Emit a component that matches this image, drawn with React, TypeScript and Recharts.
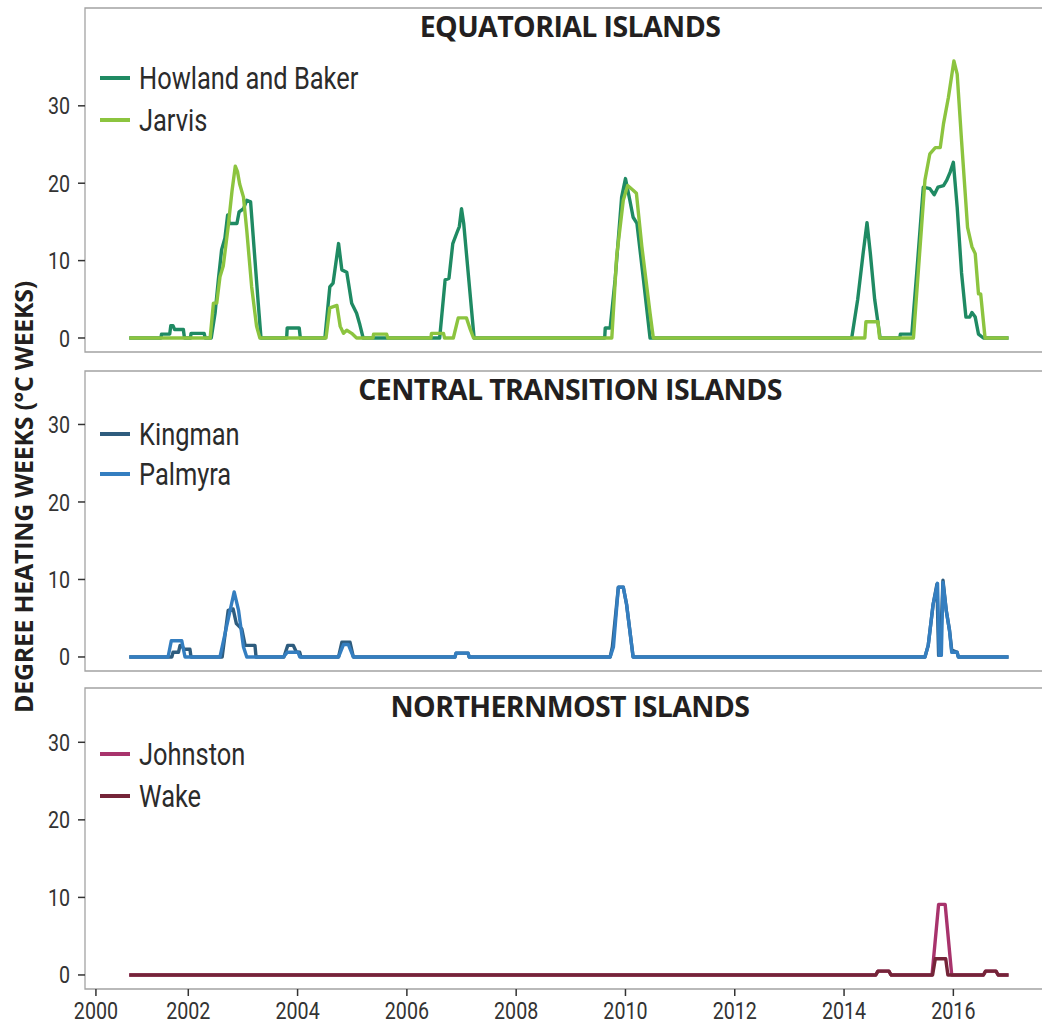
import { Legend, Line, LineChart, ReferenceArea, XAxis, YAxis } from "recharts";

type Pt = [number, number];

// degree heating weeks as [year, DHW] breakpoints
const howlandBaker: Pt[] = [
  [2000.92, 0], [2001.5, 0], [2001.51, 0.5], [2001.66, 0.5], [2001.68, 1.6], [2001.72, 1.6],
  [2001.75, 1.1], [2001.91, 1.1], [2001.93, 0], [2002.04, 0], [2002.05, 0.6], [2002.29, 0.6],
  [2002.31, 0], [2002.42, 0], [2002.49, 3.2], [2002.55, 7.5], [2002.61, 11.4], [2002.67, 12.9],
  [2002.72, 15.9], [2002.75, 14.8], [2002.89, 14.8], [2002.93, 16.3], [2003.01, 16.7],
  [2003.07, 17.8], [2003.14, 17.6], [2003.22, 10.1], [2003.28, 4.5], [2003.33, 0],
  [2003.8, 0], [2003.81, 1.3], [2004.03, 1.3], [2004.05, 0], [2004.5, 0], [2004.59, 6.6],
  [2004.65, 7.1], [2004.75, 12.2], [2004.81, 8.8], [2004.9, 8.5], [2004.99, 4.5], [2005.08, 3.2],
  [2005.14, 1.7], [2005.2, 0], [2006.6, 0], [2006.7, 7.5], [2006.77, 7.7], [2006.84, 12.2],
  [2006.91, 13.5], [2006.96, 14.4], [2007.0, 16.7], [2007.04, 14.8], [2007.23, 0],
  [2009.62, 0], [2009.63, 1.3], [2009.72, 1.3], [2009.81, 7.5], [2009.93, 18.2], [2010.0, 20.6],
  [2010.08, 17.8], [2010.14, 15.6], [2010.21, 14.8], [2010.33, 7.5], [2010.45, 0],
  [2014.14, 0], [2014.25, 5], [2014.35, 11], [2014.42, 14.9], [2014.48, 11], [2014.56, 5],
  [2014.66, 0], [2015.02, 0], [2015.03, 0.5], [2015.24, 0.5], [2015.33, 8.4], [2015.45, 19.5],
  [2015.57, 19.3], [2015.65, 18.5], [2015.72, 19.5], [2015.82, 19.7], [2015.88, 20.4],
  [2015.94, 21.4], [2016.0, 22.7], [2016.07, 16.9], [2016.15, 8.4], [2016.23, 2.7],
  [2016.3, 2.7], [2016.34, 3.3], [2016.4, 2.7], [2016.46, 0.5], [2016.55, 0], [2017.01, 0],
];

const jarvis: Pt[] = [
  [2000.92, 0], [2002.4, 0], [2002.46, 4.5], [2002.52, 4.5], [2002.58, 7.9], [2002.64, 9.3],
  [2002.73, 14.4], [2002.8, 19], [2002.86, 22.2], [2002.9, 21.5], [2002.94, 19.9],
  [2003.01, 18.2], [2003.07, 13.9], [2003.16, 6.6], [2003.25, 1.5], [2003.31, 0],
  [2004.52, 0], [2004.59, 3.9], [2004.72, 4.2], [2004.78, 1.5], [2004.84, 0.6], [2004.9, 1.0],
  [2004.99, 0.6], [2005.08, 0], [2005.38, 0], [2005.39, 0.5], [2005.63, 0.5], [2005.65, 0],
  [2006.44, 0], [2006.45, 0.6], [2006.67, 0.6], [2006.69, 0], [2006.85, 0], [2006.94, 2.6],
  [2007.09, 2.6], [2007.16, 1.1], [2007.22, 0], [2009.75, 0], [2009.84, 10.6], [2009.96, 17.8],
  [2010.04, 19.7], [2010.14, 19.1], [2010.2, 18.7], [2010.3, 11.8], [2010.45, 3.2],
  [2010.51, 0], [2014.38, 0], [2014.4, 2.1], [2014.62, 2.1], [2014.65, 0], [2015.27, 0],
  [2015.48, 20.4], [2015.57, 23.8], [2015.67, 24.6], [2015.76, 24.6], [2015.82, 27.7],
  [2015.91, 31.1], [2016.01, 35.8], [2016.07, 34.1], [2016.15, 25.5], [2016.26, 14.3],
  [2016.34, 11.8], [2016.4, 10.9], [2016.46, 5.7], [2016.5, 5.7], [2016.58, 0], [2017.01, 0],
];

const kingman: Pt[] = [
  [2000.92, 0], [2001.7, 0], [2001.72, 0.6], [2001.82, 0.6], [2001.85, 1.5], [2001.88, 1.5],
  [2001.92, 1.0], [2002.03, 1.0], [2002.05, 0], [2002.62, 0], [2002.73, 6.0], [2002.82, 6.2],
  [2002.88, 4.3], [2002.98, 3.6], [2003.04, 1.5], [2003.22, 1.5], [2003.24, 0], [2003.75, 0],
  [2003.82, 1.5], [2003.92, 1.5], [2003.98, 0.6], [2004.04, 0.6], [2004.06, 0], [2004.75, 0],
  [2004.81, 1.9], [2004.96, 1.9], [2005.02, 0], [2006.88, 0], [2006.9, 0.5], [2007.12, 0.5],
  [2007.14, 0], [2009.72, 0], [2009.76, 1.3], [2009.87, 9.0], [2009.96, 9.0], [2010.02, 6.8],
  [2010.14, 0], [2015.48, 0], [2015.54, 1.5], [2015.63, 6.8], [2015.7, 9.4], [2015.73, 0.2],
  [2015.76, 0.2], [2015.81, 9.9], [2015.87, 6.0], [2015.93, 3.4], [2015.97, 0.9],
  [2016.07, 0.6], [2016.09, 0], [2017.01, 0],
];

const palmyra: Pt[] = [
  [2000.92, 0], [2001.63, 0], [2001.69, 2.1], [2001.88, 2.1], [2001.94, 0], [2002.58, 0],
  [2002.7, 3.9], [2002.84, 8.4], [2002.92, 6.0], [2003.01, 1.3], [2003.07, 0], [2003.74, 0],
  [2003.81, 0.6], [2004.01, 0.6], [2004.04, 0], [2004.75, 0], [2004.84, 1.6], [2004.93, 1.6],
  [2005.02, 0], [2006.88, 0], [2006.9, 0.5], [2007.12, 0.5], [2007.14, 0], [2009.72, 0],
  [2009.78, 1.3], [2009.87, 9.0], [2009.96, 9.0], [2010.02, 6.8], [2010.14, 0], [2015.48, 0],
  [2015.54, 1.5], [2015.63, 6.8], [2015.71, 9.5], [2015.74, 0.2], [2015.78, 0.2],
  [2015.81, 9.6], [2015.87, 6.0], [2015.93, 3.4], [2015.97, 0.6], [2016.07, 0.6],
  [2016.09, 0], [2017.01, 0],
];

const johnston: Pt[] = [
  [2000.92, 0], [2014.58, 0], [2014.62, 0.5], [2014.82, 0.5], [2014.86, 0], [2015.61, 0],
  [2015.73, 9.1], [2015.85, 9.1], [2015.97, 0], [2016.55, 0], [2016.59, 0.5], [2016.78, 0.5],
  [2016.82, 0], [2017.01, 0],
];

const wake: Pt[] = [
  [2000.92, 0], [2014.58, 0], [2014.62, 0.5], [2014.82, 0.5], [2014.86, 0], [2015.62, 0],
  [2015.67, 2.1], [2015.86, 2.1], [2015.9, 0], [2016.55, 0], [2016.59, 0.5], [2016.78, 0.5],
  [2016.82, 0], [2017.01, 0],
];

const X_DOMAIN: [number, number] = [2000.11, 2017.86];
// first tick sits a little right of 2000 in the original
const X_TICKS = [2000.31, 2002, 2004, 2006, 2008, 2010, 2012, 2014, 2016];
const Y_TICKS = [0, 10, 20, 30];

const SANS = 'Roboto, "Liberation Sans", sans-serif';
const BOLD = '"Open Sans", "DejaVu Sans", sans-serif';
const SQUEEZE = 0.82; // the original uses a condensed face
const INK = "#2b2b2b";
const FRAME = "#a3a3a3";

interface Series {
  name: string;
  color: string;
  points: Pt[];
}

interface PanelProps {
  title: string;
  top: number;
  height: number;
  yDomain: [number, number];
  series: Series[];
  showX?: boolean;
  legendTop: number;
  legendRow: number;
}

const toRows = (pts: Pt[]) => pts.map(([t, v]) => ({ t, v }));

function YTick({ x, y, payload }: any) {
  return (
    <g transform={`translate(${x},${y}) scale(${SQUEEZE},1)`}>
      <text textAnchor="end" dy="0.355em" fontSize={24} fill="#333" fontFamily={SANS}>
        {payload.value}
      </text>
    </g>
  );
}

function XTick({ x, y, payload }: any) {
  return (
    <g transform={`translate(${x},${y}) scale(${SQUEEZE},1)`}>
      <text textAnchor="middle" dy="0.71em" fontSize={24} fill="#333" fontFamily={SANS}>
        {Math.round(payload.value)}
      </text>
    </g>
  );
}

function LegendList({ payload, row }: { payload?: any[]; row: number }) {
  return (
    <div style={{ fontFamily: SANS, fontSize: 31, color: INK }}>
      {(payload ?? []).map((p) => (
        <div
          key={p.value}
          style={{ display: "flex", alignItems: "center", height: row }}>
          <span
            style={{
              display: "inline-block",
              width: 30,
              height: 4,
              background: p.color,
              marginRight: 9,
            }}
          />
          <span
            style={{
              display: "inline-block",
              whiteSpace: "nowrap",
              transform: `scaleX(${SQUEEZE})`,
              transformOrigin: "left center",
            }}>
            {p.value}
          </span>
        </div>
      ))}
    </div>
  );
}

function Panel({ title, top, height, yDomain, series, showX, legendTop, legendRow }: PanelProps) {
  return (
    <div style={{ position: "absolute", left: 0, top }}>
      <LineChart
        width={1056}
        height={height}
        margin={{ top: 8, right: 1, bottom: showX ? 0 : 2, left: 0 }}>
        <XAxis
          type="number"
          dataKey="t"
          domain={X_DOMAIN}
          allowDataOverflow
          ticks={X_TICKS}
          hide={!showX}
          height={35}
          axisLine={false}
          tickSize={7}
          tickMargin={6}
          tickLine={{ stroke: "#333", strokeWidth: 1.5 }}
          tick={<XTick />}
        />
        <YAxis
          type="number"
          domain={yDomain}
          allowDataOverflow
          ticks={Y_TICKS}
          width={85}
          axisLine={false}
          tickSize={7}
          tickMargin={8}
          tickLine={{ stroke: "#333", strokeWidth: 1.5 }}
          tick={<YTick />}
        />
        <ReferenceArea
          x1={X_DOMAIN[0]}
          x2={X_DOMAIN[1]}
          y1={yDomain[0]}
          y2={yDomain[1]}
          fill="none"
          stroke={FRAME}
          strokeWidth={1.3}
          ifOverflow="visible"
        />
        {series.map((s) => (
          <Line
            key={s.name}
            data={toRows(s.points)}
            dataKey="v"
            name={s.name}
            type="linear"
            stroke={s.color}
            strokeWidth={3.4}
            strokeLinejoin="round"
            dot={false}
            activeDot={false}
            isAnimationActive={false}
          />
        ))}
        <Legend
          layout="vertical"
          align="center"
          verticalAlign="middle"
          wrapperStyle={{ left: 100, top: legendTop, width: 400 }}
          content={(props: any) => <LegendList payload={props.payload} row={legendRow} />}
        />
      </LineChart>
      <svg
        width={1056}
        height={56}
        style={{ position: "absolute", left: 0, top: 0, pointerEvents: "none" }}>
        <text
          x={570}
          y={37}
          textAnchor="middle"
          fontFamily={BOLD}
          fontWeight={700}
          fontSize={28.5}
          letterSpacing={-0.6}
          fill="#231f20">
          {title}
        </text>
      </svg>
    </div>
  );
}

export default function App() {
  return (
    <div
      style={{
        position: "absolute",
        left: 0,
        top: 0,
        width: 1042,
        height: 1024,
        overflow: "hidden",
        background: "#fff",
      }}>
      <Panel
        title="EQUATORIAL ISLANDS"
        top={0}
        height={354}
        yDomain={[-1.81, 42.64]}
        legendTop={57}
        legendRow={42}
        series={[
          { name: "Howland and Baker", color: "#1f8a63", points: howlandBaker },
          { name: "Jarvis", color: "#8cc43f", points: jarvis },
        ]}
      />
      <Panel
        title="CENTRAL TRANSITION ISLANDS"
        top={363}
        height={310}
        yDomain={[-1.81, 36.9]}
        legendTop={51}
        legendRow={40}
        series={[
          { name: "Kingman", color: "#2e5c7e", points: kingman },
          { name: "Palmyra", color: "#347ec0", points: palmyra },
        ]}
      />
      <Panel
        title="NORTHERNMOST ISLANDS"
        top={680}
        height={344}
        yDomain={[-1.81, 37.0]}
        showX
        legendTop={53}
        legendRow={42}
        series={[
          { name: "Johnston", color: "#a8336c", points: johnston },
          { name: "Wake", color: "#742438", points: wake },
        ]}
      />
      <svg
        width={60}
        height={1024}
        style={{ position: "absolute", left: 0, top: 0, pointerEvents: "none" }}>
        <text
          transform="translate(33 497) rotate(-90)"
          textAnchor="middle"
          fontFamily={BOLD}
          fontWeight={700}
          fontSize={25}
          letterSpacing={-0.3}
          fill="#231f20">
          DEGREE HEATING WEEKS (°C WEEKS)
        </text>
      </svg>
    </div>
  );
}
